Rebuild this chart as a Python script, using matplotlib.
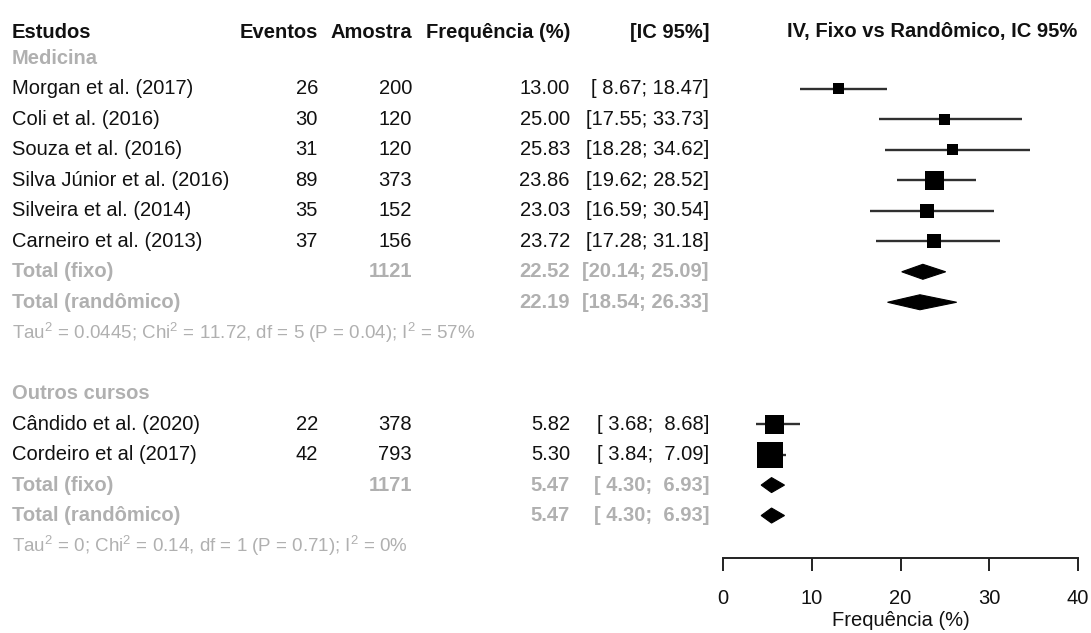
import matplotlib
matplotlib.use("Agg")
import matplotlib.pyplot as plt
from matplotlib.patches import Polygon

plt.rcParams['font.family'] = ['Liberation Sans', 'DejaVu Sans']
plt.rcParams['mathtext.fontset'] = 'custom'
plt.rcParams['mathtext.rm'] = 'Liberation Sans'

# ---------------- data ----------------
group_names = ["Medicina", "Outros cursos"]

studies_med = ["Morgan et al. (2017)", "Coli et al. (2016)", "Souza et al. (2016)",
               "Silva Júnior et al. (2016)", "Silveira et al. (2014)", "Carneiro et al. (2013)"]
events_med = [26, 30, 31, 89, 35, 37]
n_med = [200, 120, 120, 373, 152, 156]
freq_med = [13.00, 25.00, 25.83, 23.86, 23.03, 23.72]
lo_med = [8.67, 17.55, 18.28, 19.62, 16.59, 17.28]
hi_med = [18.47, 33.73, 34.62, 28.52, 30.54, 31.18]
box_med = [11, 11, 11, 19, 14, 14]          # square side (px)

studies_out = ["Cândido et al. (2020)", "Cordeiro et al (2017)"]
events_out = [22, 42]
n_out = [378, 793]
freq_out = [5.82, 5.30]
lo_out = [3.68, 3.84]
hi_out = [8.68, 7.09]
box_out = [19, 26]

total_n = [1121, 1171]
fixed_est = [22.52, 5.47]
fixed_lo = [20.14, 4.30]
fixed_hi = [25.09, 6.93]
random_est = [22.19, 5.47]
random_lo = [18.54, 4.30]
random_hi = [26.33, 6.93]
het_text = [r"Tau$^2$ = 0.0445; Chi$^2$ = 11.72, df = 5 (P = 0.04); I$^2$ = 57%",
            r"Tau$^2$ = 0; Chi$^2$ = 0.14, df = 1 (P = 0.71); I$^2$ = 0%"]

xticks = [0, 10, 20, 30, 40]

# ---------------- layout ----------------
W, H = 1091, 633
fig = plt.figure(figsize=(W / 100, H / 100), dpi=100)
ax_t = fig.add_axes([0, 0, 1, 1])
ax_t.set_xlim(0, W)
ax_t.set_ylim(H, 0)
ax_t.axis('off')

axis_y = 558
x0_px, x1_px = 723, 1078
ax_f = fig.add_axes([x0_px / W, (H - axis_y) / H, (x1_px - x0_px) / W, axis_y / H])
ax_f.set_xlim(0, 40)
ax_f.set_ylim(axis_y, 0)
ax_f.patch.set_alpha(0)
for s in ['top', 'left', 'right']:
    ax_f.spines[s].set_visible(False)
ax_f.spines['bottom'].set_linewidth(1.4)
ax_f.spines['bottom'].set_color('#222222')
ax_f.set_yticks([])
ax_f.set_xticks(xticks)
ax_f.set_xticklabels([str(t) for t in xticks])
ax_f.tick_params(axis='x', direction='out', length=9.5, width=1.4, color='#222222',
                 pad=12.5, labelsize=14.5, labelcolor='#111111')

FS = 14.5
BLACK = '#111111'
GRAY = '#b0b0b0'
LINE = '#303030'

X_NAME = 12
X_EV = 318
X_N = 412
X_FREQ = 570
X_CI = 709
X_HDR = 1077

y_header = 32
row0 = 58.5
step = 30.47

def ry(i):
    return row0 + step * i

# header
hdr = dict(fontsize=FS, fontweight='bold', color=BLACK, va='center')
ax_t.text(X_NAME, y_header, "Estudos", ha='left', **hdr)
ax_t.text(X_EV, y_header, "Eventos", ha='right', **hdr)
ax_t.text(X_N, y_header, "Amostra", ha='right', **hdr)
ax_t.text(X_FREQ, y_header, "Frequência (%)", ha='right', **hdr)
ax_t.text(X_CI, y_header, "[IC 95%]", ha='right', **hdr)
ax_t.text(X_HDR, y_header, "IV, Fixo vs Randômico, IC 95%", ha='right', **hdr)

groups = [
    (studies_med, events_med, n_med, freq_med, lo_med, hi_med, box_med),
    (studies_out, events_out, n_out, freq_out, lo_out, hi_out, box_out),
]

def ci_str(lo, hi):
    return "[%5.2f; %5.2f]" % (lo, hi)

def diamond(est, lo, hi, y, half=7.5):
    poly = Polygon([[lo, y], [est, y - half], [hi, y], [est, y + half]], closed=True,
                   facecolor='black', edgecolor='black', lw=0.8)
    ax_f.add_patch(poly)

row = 0
for g, (names, ev, nn, fr, lo, hi, bx) in enumerate(groups):
    y = ry(row)
    ax_t.text(X_NAME, y, group_names[g], ha='left', va='center', fontsize=FS,
              fontweight='bold', color=GRAY)
    row += 1
    for k in range(len(names)):
        y = ry(row)
        ax_t.text(X_NAME, y, names[k], ha='left', va='center', fontsize=FS, color=BLACK)
        ax_t.text(X_EV, y, str(ev[k]), ha='right', va='center', fontsize=FS, color=BLACK)
        ax_t.text(X_N, y, str(nn[k]), ha='right', va='center', fontsize=FS, color=BLACK)
        ax_t.text(X_FREQ, y, "%.2f" % fr[k], ha='right', va='center', fontsize=FS, color=BLACK)
        ax_t.text(X_CI, y, ci_str(lo[k], hi[k]), ha='right', va='center', fontsize=FS, color=BLACK)
        ax_f.plot([lo[k], hi[k]], [y, y], color=LINE, lw=1.7, solid_capstyle='butt', zorder=2)
        ax_f.scatter([fr[k]], [y], marker='s', s=(bx[k] * 0.72) ** 2, color='black',
                     edgecolors='none', zorder=3)
        row += 1
    # fixed
    y = ry(row)
    tot = dict(fontsize=FS, fontweight='bold', color=GRAY, va='center')
    ax_t.text(X_NAME, y, "Total (fixo)", ha='left', **tot)
    ax_t.text(X_N, y, str(total_n[g]), ha='right', **tot)
    ax_t.text(X_FREQ, y, "%.2f" % fixed_est[g], ha='right', **tot)
    ax_t.text(X_CI, y, ci_str(fixed_lo[g], fixed_hi[g]), ha='right', **tot)
    diamond(fixed_est[g], fixed_lo[g], fixed_hi[g], y)
    row += 1
    y = ry(row)
    ax_t.text(X_NAME, y, "Total (randômico)", ha='left', **tot)
    ax_t.text(X_FREQ, y, "%.2f" % random_est[g], ha='right', **tot)
    ax_t.text(X_CI, y, ci_str(random_lo[g], random_hi[g]), ha='right', **tot)
    diamond(random_est[g], random_lo[g], random_hi[g], y)
    row += 1
    y = ry(row)
    ax_t.text(X_NAME, y, het_text[g], ha='left', va='center', fontsize=13.5, color=GRAY)
    row += 2

ax_t.text((x0_px + x1_px) / 2, 621, "Frequência (%)", ha='center', va='center',
          fontsize=14.5, color=BLACK)

fig.savefig("out.png", dpi=100)
